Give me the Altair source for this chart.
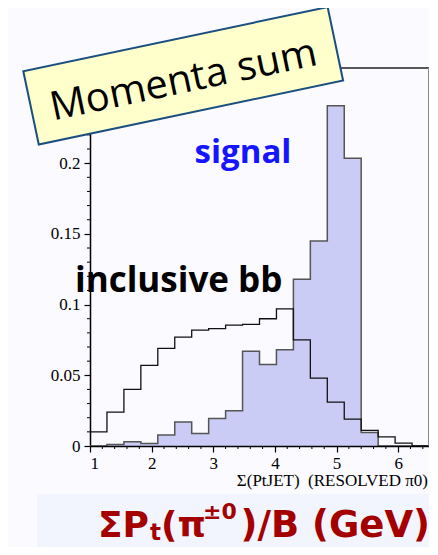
import altair as alt
import pandas as pd

# ---- data ----
edges = [1.0, 1.275, 1.55, 1.825, 2.1, 2.375, 2.65, 2.925, 3.2, 3.475, 3.75,
         4.025, 4.3, 4.575, 4.85, 5.125, 5.4, 5.675, 5.95, 6.225, 6.5]
signal = [0.0, 0.001, 0.003, 0.0017, 0.0078, 0.017, 0.0088, 0.0194, 0.025, 0.067,
          0.0576, 0.068, 0.118, 0.145, 0.2406, 0.2035, 0.0095, 0.0, 0.0, 0.0]
inclusive_bb = [0.010, 0.024, 0.040, 0.057, 0.069, 0.077, 0.082, 0.083, 0.0855, 0.086,
                0.090, 0.097, 0.075, 0.048, 0.031, 0.019, 0.011, 0.0064, 0.002, 0.0]
x_ticks = [1, 2, 3, 4, 5, 6]
y_ticks = [0, 0.05, 0.1, 0.15, 0.2]
x_minor = [1.2, 1.4, 1.6, 1.8, 2.2, 2.4, 2.6, 2.8, 3.2, 3.4, 3.6, 3.8,
           4.2, 4.4, 4.6, 4.8, 5.2, 5.4, 5.6, 5.8, 6.2, 6.4]
y_minor = [0.01, 0.02, 0.03, 0.04, 0.06, 0.07, 0.08, 0.09, 0.11, 0.12, 0.13, 0.14,
           0.16, 0.17, 0.18, 0.19, 0.21, 0.22, 0.23, 0.24, 0.26]

W, H = 339, 378
X_DOMAIN = [1, 6.5]
Y_DOMAIN = [0, 0.2673]

sig_df = pd.DataFrame({"x": edges, "y": signal + [0.0]})
bb_df = pd.DataFrame({"x": edges, "y": inclusive_bb + [0.0]})
xm_df = pd.DataFrame({"x": x_minor})
ym_df = pd.DataFrame({"y": y_minor})
one = pd.DataFrame({"a": [0]})

x_axis = alt.Axis(values=x_ticks, title=None, format="d", labelFont="Liberation Serif",
                  labelFontSize=17, labelColor="black", tickColor="black", tickSize=6,
                  tickWidth=1.2, domainColor="black", domainWidth=1.5, labelPadding=3,
                  grid=False, zindex=1)
y_axis = alt.Axis(values=y_ticks, title=None, format="~g", labelFont="Liberation Serif",
                  labelFontSize=17, labelColor="black", tickColor="black", tickSize=6,
                  tickWidth=1.2, domainColor="black", domainWidth=1.5, labelPadding=4,
                  grid=False, zindex=0)

xs = alt.Scale(domain=X_DOMAIN, nice=False, zero=False)
ys = alt.Scale(domain=Y_DOMAIN, nice=False)

xenc = alt.X("x:Q", scale=xs, axis=x_axis)
yenc = alt.Y("y:Q", scale=ys, axis=y_axis)

bg_box = alt.Chart(one).mark_rect(fill="#f2f5fd").encode(
    x=alt.value(-53), x2=alt.value(345), y=alt.value(426), y2=alt.value(490))

sig_area = alt.Chart(sig_df).mark_area(interpolate="step-after", fill="#cbccf6",
                                       opacity=1).encode(x=xenc, y=yenc)
sig_line = alt.Chart(sig_df).mark_line(interpolate="step-after", color="#555555",
                                       strokeWidth=1.5).encode(x=xenc, y=yenc)
bb_line = alt.Chart(bb_df).mark_line(interpolate="step-after", color="#111111",
                                     strokeWidth=1.3).encode(x=xenc, y=yenc)

xminor = alt.Chart(xm_df).mark_rule(color="black", strokeWidth=1).encode(
    x=alt.X("x:Q", scale=xs, axis=x_axis), y=alt.value(H), y2=alt.value(H + 3))
yminor = alt.Chart(ym_df).mark_rule(color="black", strokeWidth=1).encode(
    y=alt.Y("y:Q", scale=ys, axis=y_axis), x=alt.value(-3), x2=alt.value(0))

top_rule = alt.Chart(one).mark_rule(color="#222222", strokeWidth=1.5).encode(
    x=alt.value(0), x2=alt.value(W), y=alt.value(0))
right_rule = alt.Chart(one).mark_rule(color="#888888", strokeWidth=2).encode(
    x=alt.value(W), y=alt.value(0), y2=alt.value(H))

t_signal = alt.Chart(one).mark_text(text="signal", font="Open Sans", fontWeight="bold",
                                    fontSize=33, color="#1515ff", align="center",
                                    baseline="alphabetic").encode(
    x=alt.value(153), y=alt.value(95))
t_bb = alt.Chart(one).mark_text(text="inclusive bb", font="Open Sans", fontWeight="bold",
                                fontSize=35, color="black", align="left",
                                baseline="alphabetic").encode(
    x=alt.value(-15), y=alt.value(224))

box = alt.Chart(one).mark_point(shape="M-1,-0.241L1,-0.241L1,0.241L-1,0.241Z",
                                size=96721, angle=348.1, filled=True, fill="#ffffcc",
                                stroke="#1b4f7f", strokeWidth=2, opacity=1,
                                fillOpacity=1, strokeOpacity=1).encode(
    x=alt.value(93.2), y=alt.value(7.8))
t_title = alt.Chart(one).mark_text(text="Momenta sum", font="Open Sans", fontSize=40,
                                   color="black", align="center", baseline="alphabetic",
                                   angle=348.1).encode(
    x=alt.value(96), y=alt.value(24.5))

t_axis = alt.Chart(one).mark_text(text="\u03a3(PtJET) \u00a0(RESOLVED \u03c00)",
                                  font="Liberation Serif", fontSize=17, color="black",
                                  align="right", baseline="alphabetic").encode(
    x=alt.value(338), y=alt.value(418))

RED = "#a40000"
lab_font = "DejaVu Sans"
def seg(txt, x, y, size, align="left"):
    return alt.Chart(one).mark_text(text=txt, font=lab_font, fontWeight="bold",
                                    fontSize=size, color=RED, align=align,
                                    baseline="alphabetic").encode(
        x=alt.value(x), y=alt.value(y))

lab = [seg("\u03a3P", 8, 469, 36), seg("t", 60, 472, 23), seg("(\u03c0", 71, 469, 36),
       seg("\u00b10", 113, 451, 22), seg(")/B (GeV)", 340, 469, 37, "right")]

chart = alt.layer(bg_box, sig_area, sig_line, bb_line, xminor, yminor, top_rule,
                  right_rule, t_signal, t_bb, box, t_title, t_axis, *lab).properties(
    width=W, height=H,
    autosize=alt.AutoSizeParams(type="none"),
    padding={"left": 82, "top": 60, "right": 0, "bottom": 101},
    background="#fafaff",
).configure_view(stroke=None)

chart.save("out.html", embed_options={"renderer": "svg", "actions": False})
